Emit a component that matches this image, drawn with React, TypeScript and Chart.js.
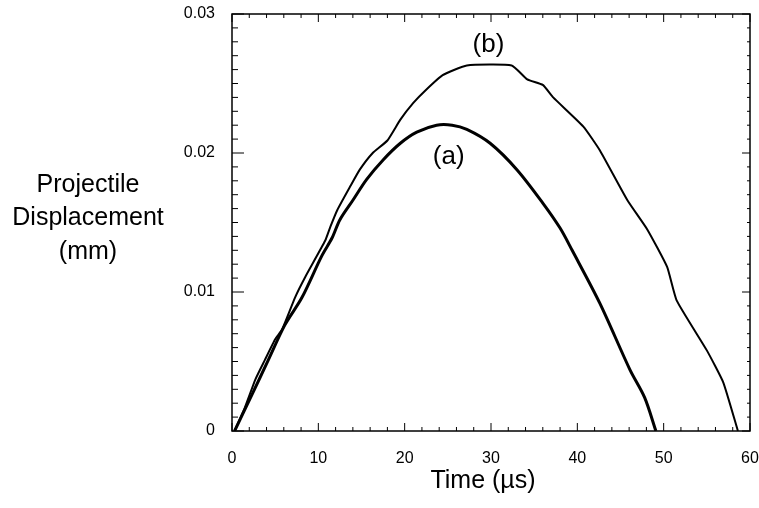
import { useEffect, useRef } from "react";
import { Chart, registerables } from "chart.js";

Chart.register(...registerables);

// Curve (a): time (µs) and displacement (mm)
const timeA = [0.3, 2.3, 4.2, 6.1, 8.1, 10.4, 11.6, 12.5, 14.0, 15.6, 17.5, 19.5, 21.4, 23.7, 25.5, 27.2, 29.9, 33.0, 36.0, 38.0, 39.4, 42.6, 46.1, 47.8, 49.1];
const dispA = [0, 0.0026, 0.0051, 0.0076, 0.0096, 0.0126, 0.0139, 0.0152, 0.0166, 0.0181, 0.0195, 0.0207, 0.0215, 0.022, 0.022, 0.0217, 0.0207, 0.0188, 0.0164, 0.0146, 0.013, 0.0092, 0.0044, 0.0024, 0];

// Curve (b)
const timeB = [0.3, 1.5, 2.7, 3.8, 5.0, 5.8, 7.3, 8.5, 10.8, 11.4, 12.2, 13.7, 14.8, 16.3, 18.0, 19.5, 21.0, 22.4, 24.4, 27.2, 32.4, 34.2, 36.0, 37.2, 40.7, 42.6, 45.8, 48.1, 50.4, 51.5, 55.0, 56.9, 58.6];
const dispB = [0, 0.0017, 0.0037, 0.0051, 0.0066, 0.0073, 0.0096, 0.0111, 0.0137, 0.0147, 0.0159, 0.0176, 0.0188, 0.02, 0.0209, 0.0224, 0.0236, 0.0245, 0.0256, 0.0263, 0.0263, 0.0253, 0.0249, 0.024, 0.0219, 0.0202, 0.0166, 0.0145, 0.0118, 0.0094, 0.0058, 0.0035, 0];

const xTickValues = [0, 10, 20, 30, 40, 50, 60];
const yTickValues = [0, 0.01, 0.02, 0.03];
const yTickLabels = ["0", "0.01", "0.02", "0.03"];
const yTitleLines = ["Projectile", "Displacement", "(mm)"];
const xTitle = "Time (µs)";
const curveNames = ["(a)", "(b)"];
const curveLabelTimes = [25.1, 29.7];
const curveLabelDisps = [0.0197, 0.0278];

const FONT = "'Liberation Sans', Arial, Helvetica, sans-serif";

const framePlugin = {
  id: "frame",
  afterDatasetsDraw(chart: any) {
    const { ctx, chartArea, scales } = chart;
    const { left, right, top, bottom } = chartArea;
    const x = scales.x;
    const y = scales.y;
    ctx.save();
    ctx.strokeStyle = "#000";
    ctx.lineWidth = 1.5;
    ctx.strokeRect(left, top, right - left, bottom - top);
    ctx.lineWidth = 1;
    for (let i = 0; i <= 30; i++) {
      const py = y.getPixelForValue(i * 0.001);
      const major = i % 10 === 0;
      ctx.beginPath();
      ctx.moveTo(left, py);
      ctx.lineTo(left + (major ? 12 : 6), py);
      ctx.stroke();
      ctx.beginPath();
      ctx.moveTo(right, py);
      ctx.lineTo(right - (major ? 8 : 3), py);
      ctx.stroke();
    }
    for (let i = 0; i <= 30; i++) {
      const t = i * 2;
      const px = x.getPixelForValue(t);
      const major = t % 10 === 0;
      ctx.beginPath();
      ctx.moveTo(px, bottom);
      ctx.lineTo(px, bottom - (major ? 8 : 4));
      ctx.stroke();
      ctx.beginPath();
      ctx.moveTo(px, top);
      ctx.lineTo(px, top + (major ? 8 : 4));
      ctx.stroke();
    }
    // curve labels
    ctx.fillStyle = "#000";
    ctx.font = `26px ${FONT}`;
    ctx.textAlign = "center";
    ctx.textBaseline = "middle";
    for (let i = 0; i < curveNames.length; i++) {
      ctx.fillText(curveNames[i], x.getPixelForValue(curveLabelTimes[i]), y.getPixelForValue(curveLabelDisps[i]));
    }
    // axis titles
    ctx.font = `25px ${FONT}`;
    ctx.fillText(xTitle, 483, 481);
    const lineYs = [185, 218, 252];
    yTitleLines.forEach((s, i) => ctx.fillText(s, 88, lineYs[i]));
    ctx.restore();
  },
};

export default function App() {
  const ref = useRef<HTMLCanvasElement | null>(null);
  useEffect(() => {
    if (!ref.current) return;
    const chart = new Chart(ref.current, {
      type: "scatter",
      data: {
        datasets: [
          {
            label: "(a)",
            data: timeA.map((t, i) => ({ x: t, y: dispA[i] })),
            showLine: true,
            borderColor: "#000",
            borderWidth: 3,
            pointRadius: 0,
            tension: 0.3,
          },
          {
            label: "(b)",
            data: timeB.map((t, i) => ({ x: t, y: dispB[i] })),
            showLine: true,
            borderColor: "#000",
            borderWidth: 2,
            pointRadius: 0,
            tension: 0.15,
          },
        ],
      },
      plugins: [framePlugin],
      options: {
        responsive: false,
        animation: false,
        layout: { padding: { top: 14, right: 9, left: 0, bottom: 0 } },
        plugins: { legend: { display: false }, tooltip: { enabled: false } },
        scales: {
          x: {
            type: "linear",
            min: 0,
            max: 60,
            afterFit: (s: any) => {
              s.height = 77;
              s.paddingLeft = 0;
              s.paddingRight = 0;
            },
            afterBuildTicks: (s: any) => {
              s.ticks = xTickValues.map((v) => ({ value: v }));
            },
            grid: { display: false, drawTicks: false },
            border: { display: false },
            ticks: {
              color: "#000",
              font: { family: FONT, size: 16 },
              padding: 18,
              maxRotation: 0,
              callback: (v: any) => String(v),
            },
          },
          y: {
            type: "linear",
            min: 0,
            max: 0.03,
            afterFit: (s: any) => {
              s.width = 232;
              s.paddingTop = 0;
              s.paddingBottom = 0;
            },
            afterBuildTicks: (s: any) => {
              s.ticks = yTickValues.map((v) => ({ value: v }));
            },
            grid: { display: false, drawTicks: false },
            border: { display: false },
            ticks: {
              color: "#000",
              font: { family: FONT, size: 16 },
              padding: 17,
              callback: (v: any) => {
                const idx = yTickValues.findIndex((t) => Math.abs(t - v) < 1e-9);
                return idx >= 0 ? yTickLabels[idx] : "";
              },
            },
          },
        },
      },
    });
    return () => chart.destroy();
  }, []);
  return (
    <div style={{ position: "absolute", left: 0, top: 0, width: 759, height: 508, background: "#fff" }}>
      <canvas ref={ref} width={759} height={508} style={{ display: "block" }} />
    </div>
  );
}
